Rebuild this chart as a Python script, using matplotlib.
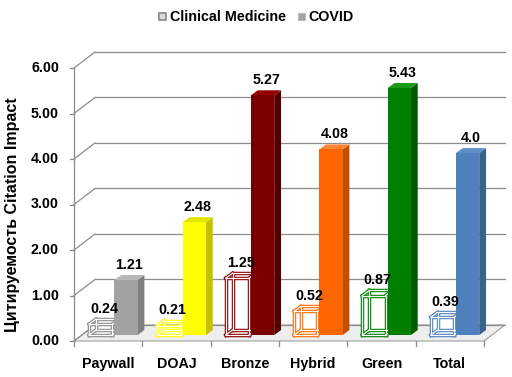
import matplotlib
matplotlib.use("Agg")
import matplotlib.pyplot as plt
from matplotlib.patches import Polygon, Rectangle
from matplotlib.lines import Line2D

plt.rcParams['font.family'] = ['Liberation Sans', 'DejaVu Sans']

categories = ["Paywall", "DOAJ", "Bronze", "Hybrid", "Green", "Total"]
clinical = [0.24, 0.21, 1.25, 0.52, 0.87, 0.39]
covid = [1.21, 2.48, 5.27, 4.08, 5.43, 4.00]
clinical_labels = ["0.24", "0.21", "1.25", "0.52", "0.87", "0.39"]
covid_labels = ["1.21", "2.48", "5.27", "4.08", "5.43", "4.0"]
yticks = [0, 1, 2, 3, 4, 5, 6]
ytick_labels = ["0.00", "1.00", "2.00", "3.00", "4.00", "5.00", "6.00"]
series_names = ["Clinical Medicine", "COVID"]

box_colors = ["#8a8a8a", "#ffff00", "#8b0000", "#ff6a00", "#008000", "#4f81bd"]
front_colors = ["#a3a3a3", "#ffff00", "#7a0000", "#ff6600", "#008000", "#4f81bd"]
side_colors = ["#808080", "#c2c200", "#560000", "#c24e00", "#005a00", "#39628f"]
top_colors = ["#b8b8b8", "#e3e300", "#940000", "#ff8533", "#1a991a", "#6090c8"]

W, H = 512, 377
fig = plt.figure(figsize=(W / 100, H / 100), dpi=100)
ax = fig.add_axes([74 / W, (H - 341) / H, 410 / W, 273 / H])
ax.set_xlim(0, 6)
ax.set_ylim(0, 6)
ax.axis("off")

# depth geometry (data units)
FDX, FDY = 0.307, 0.352      # floor / wall depth
PDX, PDY = 0.12, 0.13        # front plane of the bars
BDX, BDY = 0.10, 0.11        # bar depth
grid_c = "#8c8c8c"
FS = 10.3

def line(xs, ys, **kw):
    ax.add_line(Line2D(xs, ys, clip_on=False, **kw))

# floor
ax.add_patch(Polygon([(0, 0), (6, 0), (6 + FDX, FDY), (FDX, FDY)], closed=True,
                     facecolor="#eeeeee", edgecolor="#a0a0a0", lw=0.8,
                     clip_on=False, zorder=1))

# back wall gridlines + left wall diagonals
for v in yticks:
    line([FDX, 6 + FDX], [v + FDY, v + FDY], color=grid_c, lw=0.9, zorder=1.5)
    line([0, FDX], [v, v + FDY], color=grid_c, lw=0.9, zorder=1.5)
    line([-0.06, 0], [v, v], color=grid_c, lw=0.9, zorder=1.5)
    ax.text(-0.22, v, ytick_labels[v], ha="right", va="center",
            fontsize=FS, fontweight="bold", clip_on=False)

# vertical axis line
line([0, 0], [0, 6], color=grid_c, lw=0.9, zorder=1.5)

# category ticks
for i in range(len(categories) + 1):
    line([i, i], [0, -0.11], color=grid_c, lw=0.9, zorder=1.5)
for i, c in enumerate(categories):
    ax.text(i + 0.5, -0.50, c, ha="center", va="center",
            fontsize=FS, fontweight="bold", clip_on=False)

CL0, CL1 = 0.10, 0.44
CV0, CV1 = 0.47, 0.81

def box_pts(x0, x1, h):
    fx0, fx1 = x0 + PDX, x1 + PDX
    fy0, fy1 = PDY, h + PDY
    return fx0, fx1, fy0, fy1

for i in range(len(categories)):
    # hollow clinical box
    fx0, fx1, fy0, fy1 = box_pts(i + CL0, i + CL1, clinical[i])
    front = [(fx0, fy0), (fx1, fy0), (fx1, fy1), (fx0, fy1)]
    back = [(x + BDX, y + BDY) for x, y in front]
    ax.add_patch(Polygon(front, closed=True, facecolor="white", edgecolor="none",
                         clip_on=False, zorder=2))
    edges = []
    for k in range(4):
        edges.append((front[k], front[(k + 1) % 4]))
        edges.append((back[k], back[(k + 1) % 4]))
        edges.append((front[k], back[k]))
    for lw, col, z in [(2.5, box_colors[i], 3), (0.9, "white", 3.1)]:
        for (a, b) in edges:
            line([a[0], b[0]], [a[1], b[1]], color=col, lw=lw, zorder=z,
                 solid_capstyle="projecting")
    ax.annotate(clinical_labels[i], ((fx0 + fx1) / 2 + BDX / 2, fy1 + BDY),
                xytext=(0, 4.5), textcoords="offset points", ha="center",
                va="baseline", fontsize=FS, fontweight="bold",
                annotation_clip=False, zorder=6)

    # solid covid bar
    fx0, fx1, fy0, fy1 = box_pts(i + CV0, i + CV1, covid[i])
    z = 4
    ax.add_patch(Polygon([(fx1, fy0), (fx1 + BDX, fy0 + BDY), (fx1 + BDX, fy1 + BDY), (fx1, fy1)],
                         closed=True, facecolor=side_colors[i], edgecolor="none",
                         clip_on=False, zorder=z))
    ax.add_patch(Polygon([(fx0, fy1), (fx1, fy1), (fx1 + BDX, fy1 + BDY), (fx0 + BDX, fy1 + BDY)],
                         closed=True, facecolor=top_colors[i], edgecolor="none",
                         clip_on=False, zorder=z))
    ax.add_patch(Polygon([(fx0, fy0), (fx1, fy0), (fx1, fy1), (fx0, fy1)],
                         closed=True, facecolor=front_colors[i], edgecolor="none",
                         clip_on=False, zorder=z))
    ax.annotate(covid_labels[i], ((fx0 + fx1) / 2 + BDX / 2, fy1 + BDY),
                xytext=(0, 4.5), textcoords="offset points", ha="center",
                va="baseline", fontsize=FS, fontweight="bold",
                annotation_clip=False, zorder=6)

# y label
fig.text(13 / W, 1 - 215 / H, "Цитируемость Citation Impact", rotation=90,
         ha="center", va="center", fontsize=11.5, fontweight="bold")

# legend
ly = 1 - 17 / H
fig.patches.append(Rectangle((159 / W, 1 - 20 / H), 7 / W, 7 / H, transform=fig.transFigure,
                             facecolor="#d9d9d9", edgecolor="#8a8a8a", lw=1.2))
fig.text(170 / W, ly, series_names[0], ha="left", va="center", fontsize=FS, fontweight="bold")
fig.patches.append(Rectangle((298 / W, 1 - 20 / H), 7 / W, 7 / H, transform=fig.transFigure,
                             facecolor="#a3a3a3", edgecolor="#bdbdbd", lw=0.8))
fig.text(308 / W, ly, series_names[1], ha="left", va="center", fontsize=FS, fontweight="bold")

fig.savefig("out.png", dpi=100)
